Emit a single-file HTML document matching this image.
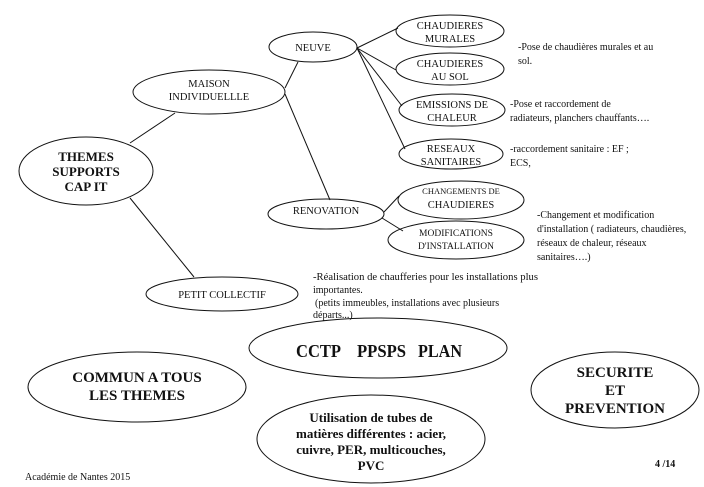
<!DOCTYPE html>
<html><head><meta charset="utf-8"><style>
html,body{margin:0;padding:0;background:#fff;}
svg{display:block;}
text{font-family:"Liberation Serif",serif;fill:#111;}
.n{font-size:10.5px;text-anchor:middle;}
.a{font-size:10px;}
.b{font-weight:bold;text-anchor:middle;}
</style></head><body>
<svg width="704" height="487" viewBox="0 0 704 487" xmlns="http://www.w3.org/2000/svg">
<g fill="none" stroke="#111" stroke-width="1">
<line x1="130" y1="143" x2="175" y2="113"/>
<line x1="130" y1="198" x2="194" y2="277"/>
<line x1="285" y1="88" x2="298" y2="62"/>
<line x1="285" y1="94" x2="330" y2="200"/>
<line x1="357" y1="48" x2="398" y2="28"/>
<line x1="357" y1="48" x2="396" y2="70"/>
<line x1="357" y1="48" x2="402" y2="106"/>
<line x1="357" y1="48" x2="405" y2="149"/>
<line x1="384" y1="212" x2="399" y2="196"/>
<line x1="382" y1="218" x2="403" y2="231"/>
<ellipse cx="313" cy="47" rx="44" ry="15"/>
<ellipse cx="209" cy="92" rx="76" ry="22"/>
<ellipse cx="86" cy="171" rx="67" ry="34"/>
<ellipse cx="222" cy="294" rx="76" ry="17"/>
<ellipse cx="326" cy="214" rx="58" ry="15"/>
<ellipse cx="450" cy="31" rx="54" ry="16"/>
<ellipse cx="450" cy="69" rx="54" ry="16"/>
<ellipse cx="452" cy="110" rx="53" ry="16"/>
<ellipse cx="451" cy="154" rx="52" ry="15"/>
<ellipse cx="461" cy="200" rx="63" ry="19"/>
<ellipse cx="456" cy="240" rx="68" ry="19"/>
<ellipse cx="378" cy="348" rx="129" ry="30"/>
<ellipse cx="137" cy="387" rx="109" ry="35"/>
<ellipse cx="371" cy="439" rx="114" ry="44"/>
<ellipse cx="615" cy="390" rx="84" ry="38"/>
</g>
<text class="n" x="313" y="51">NEUVE</text>
<text class="n" x="209" y="87">MAISON</text>
<text class="n" x="209" y="100">INDIVIDUELLLE</text>
<text class="b" x="86" y="161" font-size="13">THEMES</text>
<text class="b" x="86" y="176" font-size="13">SUPPORTS</text>
<text class="b" x="86" y="191" font-size="13">CAP IT</text>
<text class="n" x="222" y="298">PETIT COLLECTIF</text>
<text class="n" x="326" y="214">RENOVATION</text>
<text class="n" x="450" y="29">CHAUDIERES</text>
<text class="n" x="450" y="42">MURALES</text>
<text class="n" x="450" y="67">CHAUDIERES</text>
<text class="n" x="450" y="80">AU SOL</text>
<text class="n" x="452" y="108">EMISSIONS DE</text>
<text class="n" x="452" y="121">CHALEUR</text>
<text class="n" x="451" y="152">RESEAUX</text>
<text class="n" x="451" y="165">SANITAIRES</text>
<text class="n" x="461" y="194" style="font-size:8.5px">CHANGEMENTS DE</text>
<text class="n" x="461" y="208">CHAUDIERES</text>
<text class="n" x="456" y="236" style="font-size:9.5px">MODIFICATIONS</text>
<text class="n" x="456" y="249" style="font-size:9.5px">D'INSTALLATION</text>
<text class="a" x="518" y="50">-Pose de chaudières murales et au</text>
<text class="a" x="518" y="64">sol.</text>
<text class="a" x="510" y="107">-Pose et raccordement de</text>
<text class="a" x="510" y="121">radiateurs, planchers chauffants….</text>
<text class="a" x="510" y="152">-raccordement sanitaire : EF ;</text>
<text class="a" x="510" y="166">ECS,</text>
<text class="a" x="537" y="218">-Changement et modification</text>
<text class="a" x="537" y="232">d'installation ( radiateurs, chaudières,</text>
<text class="a" x="537" y="246">réseaux de chaleur, réseaux</text>
<text class="a" x="537" y="260">sanitaires….)</text>
<text class="a" x="313" y="280" textLength="225" lengthAdjust="spacingAndGlyphs">-Réalisation de chaufferies  pour les installations plus</text>
<text class="a" x="313" y="293">importantes.</text>
<text class="a" x="315" y="306">(petits immeubles, installations avec plusieurs</text>
<text class="a" x="313" y="318">départs...)</text>
<text x="296" y="357" font-size="18" font-weight="bold" textLength="45" lengthAdjust="spacingAndGlyphs">CCTP</text>
<text x="357" y="357" font-size="18" font-weight="bold" textLength="49" lengthAdjust="spacingAndGlyphs">PPSPS</text>
<text x="418" y="357" font-size="18" font-weight="bold" textLength="44" lengthAdjust="spacingAndGlyphs">PLAN</text>
<text class="b" x="137" y="382" font-size="15">COMMUN A TOUS</text>
<text class="b" x="137" y="400" font-size="15">LES THEMES</text>
<text class="b" x="615" y="377" font-size="15">SECURITE</text>
<text class="b" x="615" y="395" font-size="15">ET</text>
<text class="b" x="615" y="413" font-size="15">PREVENTION</text>
<text class="b" x="371" y="422" font-size="13">Utilisation de tubes de</text>
<text class="b" x="371" y="438" font-size="13">matières différentes : acier,</text>
<text class="b" x="371" y="454" font-size="13">cuivre, PER, multicouches,</text>
<text class="b" x="371" y="470" font-size="13">PVC</text>
<text x="25" y="480" font-size="10">Académie de Nantes 2015</text>
<text x="655" y="467" font-size="10" font-weight="bold">4 /14</text>
</svg>
</body></html>
